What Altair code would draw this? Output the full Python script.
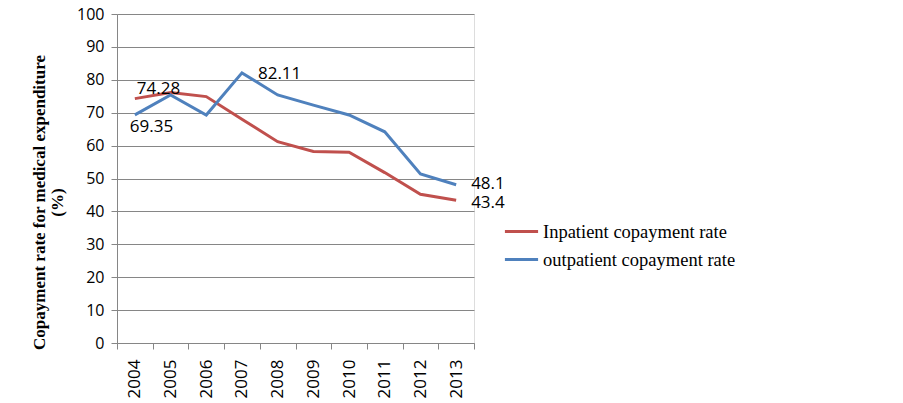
import altair as alt
import pandas as pd

years = [2004, 2005, 2006, 2007, 2008, 2009, 2010, 2011, 2012, 2013]
inpatient = [74.28, 76.1, 74.9, 68.0, 61.2, 58.2, 58.0, 51.8, 45.2, 43.4]
outpatient = [69.35, 75.4, 69.3, 82.11, 75.4, 72.3, 69.3, 64.2, 51.4, 48.1]
series_names = ["Inpatient copayment rate", "outpatient copayment rate"]
series_colors = ["#C0504D", "#4F81BD"]
y_title = ["Copayment rate for medical expenditure", "(%)"]

rows = []
for y, v in zip(years, inpatient):
    rows.append({"year": y, "value": v, "series": series_names[0]})
for y, v in zip(years, outpatient):
    rows.append({"year": y, "value": v, "series": series_names[1]})
df = pd.DataFrame(rows)

W, H = 357, 329
tick_vals = [years[0] - 0.5 + i for i in range(len(years) + 1)]
band = W / len(years)

x_enc = alt.X(
    "year:Q",
    scale=alt.Scale(domain=[years[0] - 0.5, years[-1] + 0.5], nice=False, zero=False),
    axis=alt.Axis(
        values=tick_vals,
        labelExpr=f"datum.value < {years[-1]} ? format(datum.value + 0.5, 'd') : ''",
        labelOffset=band / 2,
        labelAngle=270,
        labelAlign="right",
        labelBaseline="middle",
        labelPadding=10,
        labelOverlap=False,
        labelFlush=False,
        labelFont="Open Sans",
        labelFontSize=17,
        labelColor="#000000",
        tickSize=6,
        tickColor="#868686",
        domainColor="#868686",
        grid=False,
        title=None,
    ),
)
y_enc = alt.Y(
    "value:Q",
    scale=alt.Scale(domain=[0, 100], nice=False),
    axis=alt.Axis(
        values=list(range(0, 101, 10)),
        labelOverlap=False,
        labelFlush=False,
        labelFont="Open Sans",
        labelFontSize=16,
        labelColor="#000000",
        labelPadding=7,
        tickSize=6,
        tickColor="#868686",
        domainColor="#868686",
        gridColor="#868686",
        gridWidth=1,
        title=y_title,
        titleFont="Liberation Serif",
        titleFontWeight="bold",
        titleFontSize=17,
        titleColor="#000000",
        titleAngle=270,
        titleBaseline="middle",
        titleAlign="center",
        titleLineHeight=18,
        titleX=-78,
        titleY=188,
    ),
)

color_enc = alt.Color(
    "series:N",
    scale=alt.Scale(domain=series_names, range=series_colors),
    legend=alt.Legend(
        title=None,
        orient="none",
        legendX=386,
        legendY=199,
        symbolType="stroke",
        symbolSize=1100,
        symbolStrokeWidth=3,
        labelFont="Liberation Serif",
        labelFontSize=18.5,
        labelColor="#000000",
        labelOffset=3,
        labelLimit=400,
        rowPadding=0,
    ),
)

lines = alt.Chart(df).mark_line(strokeWidth=3).encode(x=x_enc, y=y_enc, color=color_enc)

def label(series, year, dx, dy, align, baseline):
    return (
        alt.Chart(df)
        .transform_filter((alt.datum.series == series) & (alt.datum.year == year))
        .mark_text(dx=dx, dy=dy, align=align, baseline=baseline,
                   font="Open Sans", fontSize=17, color="#000000")
        .encode(x=x_enc, y=y_enc, text=alt.Text("value:Q"))
    )

labels = [
    label(series_names[0], 2004, 2, -1, "left", "bottom"),
    label(series_names[1], 2004, -5, 4, "left", "top"),
    label(series_names[1], 2007, 16, 1, "left", "middle"),
    label(series_names[1], 2013, 15, -1, "left", "middle"),
    label(series_names[0], 2013, 15, 3, "left", "middle"),
]

chart = alt.layer(lines, *labels).properties(
    width=W,
    height=H,
    autosize=alt.AutoSizeParams(type="none"),
    padding={"left": 109, "top": 6, "right": 400, "bottom": 60},
).configure_view(stroke=None).configure(background="#ffffff")

chart.save("out.html", embed_options={"renderer": "svg", "actions": False})
